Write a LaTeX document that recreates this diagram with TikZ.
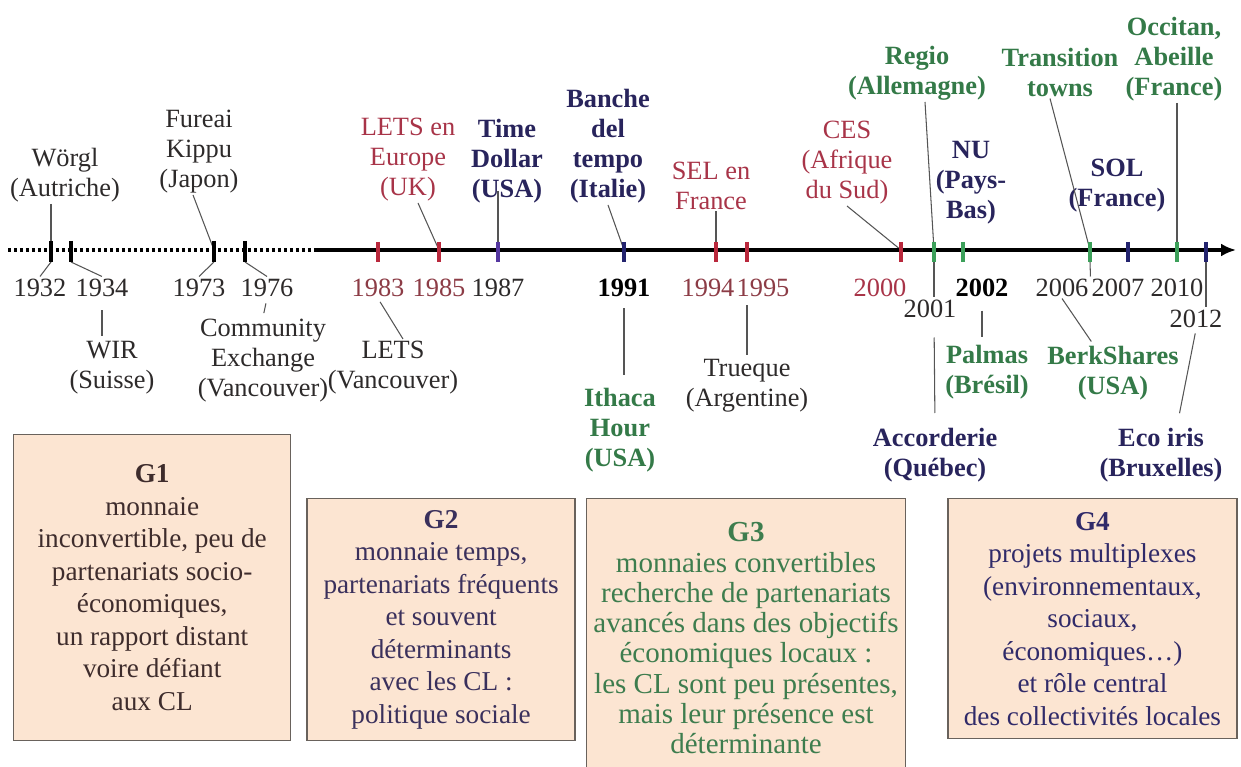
\documentclass[tikz,border=0pt]{standalone}
\usepackage{fontspec}
\setmainfont{Liberation Serif}
\usetikzlibrary{positioning}
\usetikzlibrary{arrows.meta}
\usetikzlibrary{calc}

\definecolor{txtdark}{RGB}{45,42,42}
\definecolor{txtred}{RGB}{168,52,72}
\definecolor{yrred}{RGB}{140,60,70}
\definecolor{txtnavy}{RGB}{40,36,92}
\definecolor{txtgreen}{RGB}{52,122,72}
\definecolor{tckred}{RGB}{185,40,60}
\definecolor{tckpurple}{RGB}{85,55,160}
\definecolor{tcknavy}{RGB}{35,35,110}
\definecolor{tckgreen}{RGB}{60,160,90}
\definecolor{boxfill}{RGB}{252,229,210}
\definecolor{boxline}{RGB}{105,98,92}
\definecolor{leadgray}{RGB}{85,85,85}
\definecolor{gonetxt}{RGB}{62,44,44}
\definecolor{gtwotxt}{RGB}{58,48,92}
\definecolor{gthreetxt}{RGB}{62,125,78}
\definecolor{gfourtxt}{RGB}{48,42,105}

\tikzset{
   lbl/.style={align=center, inner sep=1pt, text=txtdark,
      font=\fontsize{15}{17}\selectfont},
   lblb/.style={lbl, font=\fontsize{15}{17}\selectfont\bfseries},
   yr/.style={inner sep=1pt, text=txtdark, font=\fontsize{15}{17}\selectfont},
   yrb/.style={yr, text=black, font=\fontsize{15}{17}\selectfont\bfseries},
   lead/.style={draw=leadgray, line width=0.6pt},
   tck/.style={line width=2pt},
   dotax/.style={line width=1.8pt, dash pattern=on 0.06cm off 0.06cm},
   solax/.style={line width=2pt, -{Latex[length=0.3cm,width=0.26cm]}},
   gbox/.style={draw=boxline, line width=0.8pt, fill=boxfill, align=center,
      inner sep=0pt, anchor=north west, font=\fontsize{15.5}{18.5}\selectfont}
}

\begin{document}
   \begin{tikzpicture}
      \useasboundingbox (0,0) rectangle (24.82,-15.34);

      \coordinate (t1932) at (1.02,-5.0);
      \coordinate[right=0.40cm of t1932] (t1934);
      \coordinate[right=2.86cm of t1934] (t1973);
      \coordinate[right=0.62cm of t1973] (t1976);
      \coordinate[right=2.66cm of t1976] (t1983);
      \coordinate[right=1.22cm of t1983] (t1985);
      \coordinate[right=1.18cm of t1985] (t1987);
      \coordinate[right=2.52cm of t1987] (t1991);
      \coordinate[right=1.84cm of t1991] (t1994);
      \coordinate[right=0.62cm of t1994] (t1995);
      \coordinate[right=3.08cm of t1995] (t2000);
      \coordinate[right=0.66cm of t2000] (t2001);
      \coordinate[right=0.58cm of t2001] (t2002);
      \coordinate[right=2.54cm of t2002] (t2006);
      \coordinate[right=0.76cm of t2006] (t2007);
      \coordinate[right=0.98cm of t2007] (t2010);
      \coordinate[right=0.58cm of t2010] (t2012);

      \coordinate[left=0.86cm of t1932] (ax0);
      \coordinate[right=1.40cm of t1976] (ax1);
      \coordinate[right=0.60cm of t2012] (ax2);

      \node[yr, below=0.53cm of t1932, xshift=-0.22cm] (y1932) {1932};
      \node[yr, below=0.53cm of t1934, xshift=0.62cm] (y1934) {1934};
      \node[yr, below=0.53cm of t1973, xshift=-0.30cm] (y1973) {1973};
      \node[yr, below=0.53cm of t1976, xshift=0.44cm] (y1976) {1976};
      \node[yr, text=yrred, below=0.53cm of t1983] (y1983) {1983};
      \node[yr, text=yrred, below=0.53cm of t1985] (y1985) {1985};
      \node[yr, below=0.53cm of t1987] (y1987) {1987};
      \node[yrb, below=0.53cm of t1991] (y1991) {1991};
      \node[yr, text=yrred, below=0.53cm of t1994, xshift=-0.16cm] (y1994) {1994};
      \node[yr, text=yrred, below=0.53cm of t1995, xshift=0.32cm] (y1995) {1995};
      \node[yr, text=txtred, below=0.53cm of t2000, xshift=-0.42cm] (y2000) {2000};
      \node[yr, below=0.95cm of t2001, xshift=-0.08cm] (y2001) {2001};
      \node[yrb, below=0.53cm of t2002, xshift=0.38cm] (y2002) {2002};
      \node[yr, below=0.53cm of t2006, xshift=-0.56cm] (y2006) {2006};
      \node[yr, below=0.53cm of t2007, xshift=-0.20cm] (y2007) {2007};
      \node[yr, below=0.53cm of t2010] (y2010) {2010};
      \node[yr, below=1.15cm of t2012, xshift=-0.20cm] (y2012) {2012};

      \node[lbl, above=0.92cm of t1932, xshift=0.28cm] (wor) {Wörgl\\(Autriche)};
      \node[lbl, above=1.10cm of t1973, xshift=-0.30cm] (fur) {Fureai\\Kippu\\(Japon)};
      \node[lbl, text=txtred, above=0.94cm of t1985, xshift=-0.62cm] (lets1) {LETS en\\Europe\\(UK)};
      \node[lblb, text=txtnavy, above=0.90cm of t1987, xshift=0.18cm] (tim) {Time\\Dollar\\(USA)};
      \node[lblb, text=txtnavy, above=0.90cm of t1991, xshift=-0.32cm] (ban) {Banche\\del\\tempo\\(Italie)};
      \node[lbl, text=txtred, above=0.77cm of t1994, xshift=-0.10cm] (sel) {SEL en\\France};
      \node[lbl, text=txtred, above=0.88cm of t2000, xshift=-1.08cm] (ces) {CES\\(Afrique\\du Sud)};
      \node[lblb, text=txtgreen, above=2.96cm of t2001, xshift=-0.34cm] (reg) {Regio\\(Allemagne)};
      \node[lblb, text=txtnavy, above=0.48cm of t2002, xshift=0.16cm] (nu) {NU\\(Pays-\\Bas)};
      \node[lblb, text=txtgreen, above=3.03cm of t2006, xshift=-0.60cm] (tra) {Transition\\towns};
      \node[lblb, text=txtnavy, above=0.72cm of t2007, xshift=-0.22cm] (sol) {SOL\\(France)};
      \node[lblb, text=txtgreen, above=2.94cm of t2010, xshift=-0.06cm] (occ) {Occitan,\\Abeille\\(France)};

      \node[lbl, below=1.78cm of t1934, xshift=0.82cm] (wir) {WIR\\(Suisse)};
      \node[lbl, below=1.34cm of t1976, xshift=0.36cm] (com) {Community\\Exchange\\(Vancouver)};
      \node[lbl, below=1.78cm of t1983, xshift=0.30cm] (lets2) {LETS\\(Vancouver)};
      \node[lblb, text=txtgreen, below=2.72cm of t1991, xshift=-0.08cm] (ith) {Ithaca\\Hour\\(USA)};
      \node[lbl, below=2.14cm of t1995] (tru) {Trueque\\(Argentine)};
      \node[lblb, text=txtnavy, below=3.52cm of t2001, xshift=0.02cm] (acc) {Accorderie\\(Québec)};
      \node[lblb, text=txtgreen, below=1.86cm of t2002, xshift=0.48cm] (pal) {Palmas\\(Brésil)};
      \node[lblb, text=txtgreen, below=1.88cm of t2006, xshift=0.46cm] (ber) {BerkShares\\(USA)};
      \node[lblb, text=txtnavy, below=3.52cm of t2012, xshift=-0.90cm] (eco) {Eco iris\\(Bruxelles)};

      \draw[lead] (wor.south -| t1932) -- (t1932);
      \draw[lead] ([xshift=-0.12cm]fur.south) -- (t1973);
      \draw[lead] ([xshift=0.20cm]lets1.south) -- (t1985);
      \draw[lead, shorten <=-0.28cm] (tim.south -| t1987) -- (t1987);
      \draw[lead] (ban.south) -- (t1991);
      \draw[lead] (sel.south -| t1994) -- (t1994);
      \draw[lead] (ces.south) -- (t2000);
      \draw[lead] ([xshift=0.16cm]reg.south) -- (t2001);
      \draw[lead] (t2001) -- (t2001 |- y2001.north);
      \draw[lead] ([xshift=-0.20cm]tra.south) -- (t2006);
      \draw[lead] (occ.south -| t2010) -- (t2010);
      \draw[lead] (t2012) -- (t2012 |- y2012.north);

      \draw[lead] ([yshift=-0.24cm]t1932) -- (y1932.north);
      \draw[lead] ([yshift=-0.24cm]t1934) -- (y1934.north);
      \draw[lead] ([yshift=-0.24cm]t1973) -- (y1973.north);
      \draw[lead] ([yshift=-0.24cm]t1976) -- (y1976.north);
      \draw[lead] ([yshift=-0.24cm]t2006) -- (y2006.north east);

      \draw[lead, shorten <=0.24cm, shorten >=0.06cm] (y1934.south) -- (y1934.south |- wir.north);
      \draw[lead, shorten <=0.10cm, shorten >=0.08cm] (y1976.south) -- (com.north);
      \draw[lead, shorten <=0.08cm] (y1983.south) -- ([xshift=0.20cm]lets2.north);
      \draw[lead, shorten <=0.20cm, shorten >=0.22cm] (y1991.south) -- (y1991.south |- ith.north);
      \draw[lead, shorten <=0.14cm, shorten >=0.04cm] (t1995 |- y1995.south) -- (tru.north);
      \draw[lead, shorten <=0.36cm, shorten >=0.26cm] (y2001.south -| t2001) -- (acc.north);
      \draw[lead, shorten <=0.24cm, shorten >=0.12cm] (y2002.south) -- (y2002.south |- pal.north);
      \draw[lead, shorten >=0.06cm] (y2006.south) -- ([xshift=-0.40cm]ber.north);
      \draw[lead, shorten <=0.08cm, shorten >=0.26cm] (y2012.south) -- ([xshift=0.32cm]eco.north);

      \draw[dotax] (ax0) -- (ax1);
      \draw[solax] (ax1) -- (ax2);

      \draw[tck, black] ([yshift=0.18cm]t1932) -- ([yshift=-0.24cm]t1932);
      \draw[tck, black] ([yshift=0.18cm]t1934) -- ([yshift=-0.24cm]t1934);
      \draw[tck, black] ([yshift=0.18cm]t1973) -- ([yshift=-0.24cm]t1973);
      \draw[tck, black] ([yshift=0.18cm]t1976) -- ([yshift=-0.24cm]t1976);
      \draw[tck, tckred] ([yshift=0.16cm]t1983) -- ([yshift=-0.24cm]t1983);
      \draw[tck, tckred] ([yshift=0.16cm]t1985) -- ([yshift=-0.24cm]t1985);
      \draw[tck, tckpurple] ([yshift=0.16cm]t1987) -- ([yshift=-0.24cm]t1987);
      \draw[tck, tcknavy] ([yshift=0.16cm]t1991) -- ([yshift=-0.24cm]t1991);
      \draw[tck, tckred] ([yshift=0.16cm]t1994) -- ([yshift=-0.24cm]t1994);
      \draw[tck, tckred] ([yshift=0.16cm]t1995) -- ([yshift=-0.24cm]t1995);
      \draw[tck, tckred] ([yshift=0.16cm]t2000) -- ([yshift=-0.24cm]t2000);
      \draw[tck, tckgreen] ([yshift=0.16cm]t2001) -- ([yshift=-0.24cm]t2001);
      \draw[tck, tckgreen] ([yshift=0.16cm]t2002) -- ([yshift=-0.24cm]t2002);
      \draw[tck, tckgreen] ([yshift=0.16cm]t2006) -- ([yshift=-0.24cm]t2006);
      \draw[tck, tcknavy] ([yshift=0.16cm]t2007) -- ([yshift=-0.24cm]t2007);
      \draw[tck, tckgreen] ([yshift=0.16cm]t2010) -- ([yshift=-0.24cm]t2010);
      \draw[tck, tcknavy] ([yshift=0.16cm]t2012) -- ([yshift=-0.24cm]t2012);

      \node[gbox, text=gonetxt, minimum width=5.54cm, minimum height=6.12cm] (g1) at (0.26,-8.68)
         {\textbf{G1}\\monnaie\\inconvertible, peu de\\partenariats socio-\\économiques,\\un rapport distant\\voire défiant\\aux CL};
      \node[gbox, text=gtwotxt, below right=1.28cm and 0.30cm of g1.north east,
         minimum width=5.36cm, minimum height=4.84cm] (g2)
         {\textbf{G2}\\monnaie temps,\\partenariats fréquents\\et souvent\\déterminants\\avec les CL :\\politique sociale};
      \node[gbox, text=gthreetxt, below right=0cm and 0.20cm of g2.north east,
         minimum width=6.38cm, minimum height=5.58cm, font=\fontsize{16.5}{17.2}\selectfont] (g3)
         {\textbf{G3}\\monnaies convertibles\\recherche de partenariats\\avancés dans des objectifs\\économiques locaux :\\les CL sont peu présentes,\\mais leur présence est\\déterminante};
      \node[gbox, text=gfourtxt, below right=0cm and 0.82cm of g3.north east,
         minimum width=5.78cm, minimum height=4.80cm] (g4)
         {\textbf{G4}\\projets multiplexes\\(environnementaux,\\sociaux,\\économiques…)\\et rôle central\\des collectivités locales};
   \end{tikzpicture}
\end{document}
